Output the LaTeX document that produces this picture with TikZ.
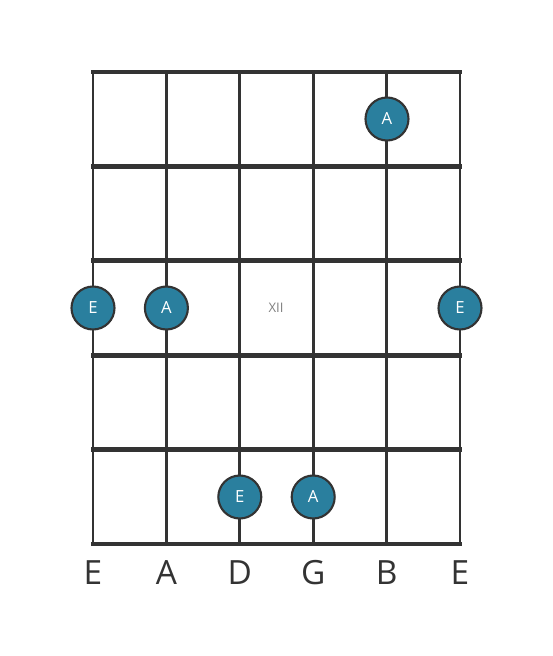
\documentclass[tikz,border=0pt]{standalone}
\usepackage{fontspec}
\setmainfont{Open Sans}
\usepackage{tikz}
\usetikzlibrary{calc}
\definecolor{dotblue}{HTML}{2A7F9E}
\definecolor{gridgray}{HTML}{333333}
\tikzset{fret/.style={gridgray, line width=2.8pt}}
\tikzset{gstring/.style={gridgray, line width=1.6pt}}
\tikzset{note/.style={circle, draw=gridgray, line width=1.2pt, fill=dotblue,
  minimum size=0.86cm, inner sep=0pt, text=white, font=\fontsize{9.5}{9.5}\selectfont}}
\tikzset{l/.style={font=\fontsize{19}{19}\selectfont, text=gridgray}}
\tikzset{m/.style={font=\fontsize{7.5}{7.5}\selectfont, text=gray}}

\begin{document}
\begin{tikzpicture}[x=0.02cm, y=-0.02cm]
    \useasboundingbox (0,0) rectangle (553,656);
    % strings
    \foreach \s [count=\i from 0] in {E,A,D,G,B,E} {
      \coordinate (top\i) at (93+73.4*\i, 72);
      \coordinate (bot\i) at (93+73.4*\i, 544);
      \draw[gstring] (top\i) -- (bot\i);
      \node[l] (lab\i) at (93+73.4*\i, 573) {\s};
    }
    % frets
    \foreach \f in {0,...,5} {
      \coordinate (fl\f) at (91, 72+94.4*\f);
      \coordinate (fr\f) at (462, 72+94.4*\f);
      \draw[fret] (fl\f) -- (fr\f);
    }
    \node[m] (XII) at (276, 308) {XII};
    % notes
    \node[note] (A1) at (387, 119) {A};
    \node[note] (E2) at (93, 308) {E};
    \node[note] (A2) at (166.4, 308) {A};
    \node[note] (E3) at (460, 308) {E};
    \node[note] (E4) at (239.8, 497) {E};
    \node[note] (A4) at (313.2, 497) {A};
  \end{tikzpicture}
\end{document}
